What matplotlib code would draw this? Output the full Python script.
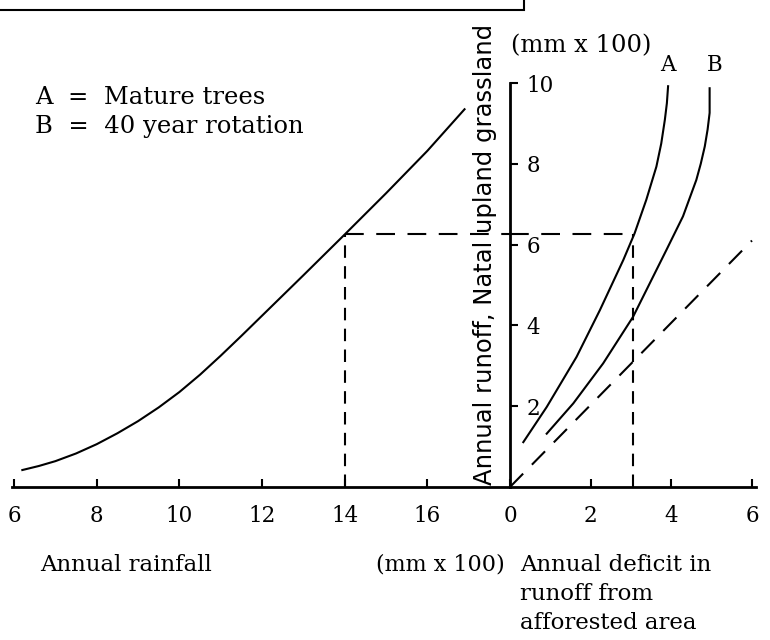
import matplotlib.pyplot as plt
from matplotlib.patches import Rectangle

# annual rainfall vs runoff from Natal upland grassland (mm x 100)
rainfall = [6.2, 6.6, 7.0, 7.5, 8.0, 8.5, 9.0, 9.5, 10.0, 10.5, 11.0, 11.5,
            12.0, 13.0, 14.0, 15.0, 16.0, 16.9]
runoff_grass = [0.42, 0.52, 0.64, 0.83, 1.06, 1.33, 1.63, 1.97, 2.35, 2.78,
                3.25, 3.74, 4.24, 5.24, 6.25, 7.27, 8.32, 9.35]

# annual deficit in runoff from afforested area
deficit_a = [0.33, 0.91, 1.65, 2.23, 2.81, 3.09, 3.38, 3.63, 3.75, 3.84, 3.89, 3.92]
runoff_a = [1.11, 1.98, 3.22, 4.38, 5.62, 6.28, 7.11, 7.93, 8.5, 9.09, 9.5, 9.92]
deficit_b = [0.91, 1.57, 2.31, 3.05, 3.63, 3.88, 4.29, 4.62, 4.73, 4.83, 4.9, 4.95, 4.95]
runoff_b = [1.32, 2.07, 3.06, 4.21, 5.37, 5.87, 6.7, 7.6, 8.0, 8.43, 8.85, 9.26, 9.87]

# dashed 1:1 line
ref_deficit = [0.0, 6.0]
ref_runoff = [0.0, 6.1]

# worked example (dashed guide lines)
example_rain = 14.0
example_runoff = 6.25
example_deficit = 3.05

rain_ticks = [6, 8, 10, 12, 14, 16]
deficit_ticks = [0, 2, 4, 6]
runoff_ticks = [2, 4, 6, 8, 10]

W, H = 770, 640
SERIF = "DejaVu Serif"


def fpos(x, y):
    # pixel position -> figure fraction
    return x / W, 1 - y / H


fig = plt.figure(figsize=(7.7, 6.4), dpi=100, facecolor="white")

# left panel: rainfall 5.95..18, right panel: deficit 0..6.1 (same scale)
ax1 = fig.add_axes([12 / W, 1 - 487 / H, (510 - 12) / W, (487 - 83) / H])
ax2 = fig.add_axes([510 / W, 1 - 487 / H, (756 - 510) / W, (487 - 83) / H])
for ax in (ax1, ax2):
    ax.set_facecolor("none")
    ax.set_ylim(0, 10)
    ax.spines["top"].set_visible(False)
    ax.spines["right"].set_visible(False)
    ax.spines["bottom"].set_linewidth(2)
    ax.tick_params(axis="x", direction="in", length=6, width=1.5,
                   pad=13, labelsize=15.5)

ax1.set_xlim(5.95, 18)
ax2.set_xlim(0, 6.1)
ax1.spines["left"].set_visible(False)
ax1.set_yticks([])
ax2.spines["left"].set_linewidth(2)

ax1.set_xticks(rain_ticks, labels=[str(t) for t in rain_ticks], family=SERIF)
ax2.set_xticks(deficit_ticks, labels=[str(t) for t in deficit_ticks], family=SERIF)
ax2.set_yticks(runoff_ticks, labels=[str(t) for t in runoff_ticks],
               family=SERIF, ha="left")
ax2.tick_params(axis="y", direction="in", length=6, width=1.5, pad=-12,
                labelsize=15.5)

# curves
ax1.plot(rainfall, runoff_grass, color="black", lw=1.5, clip_on=False)
ax2.plot(deficit_a, runoff_a, color="black", lw=1.5, clip_on=False)
ax2.plot(deficit_b, runoff_b, color="black", lw=1.5, clip_on=False)
ax2.plot(ref_deficit, ref_runoff, color="black", lw=1.5,
         ls=(0, (9, 6)), clip_on=False)

# dashed guide lines
ax1.plot([example_rain, example_rain], [0, example_runoff], color="black",
         lw=1.5, ls=(0, (6, 4)), clip_on=False)
ax1.plot([example_rain, 18], [example_runoff, example_runoff], color="black",
         lw=1.5, ls=(0, (9, 6)), clip_on=False)
ax2.plot([0, example_deficit], [example_runoff, example_runoff], color="black",
         lw=1.5, ls=(0, (9, 6)), clip_on=False)
ax2.plot([example_deficit, example_deficit], [0, example_runoff], color="black",
         lw=1.5, ls=(0, (6, 4)), clip_on=False)

# texts
fig.text(*fpos(35, 97), "A  =  Mature trees", family=SERIF, fontsize=17.5,
         va="center", ha="left")
fig.text(*fpos(35, 127), "B  =  40 year rotation", family=SERIF, fontsize=17.5,
         va="center", ha="left")
fig.text(*fpos(511, 46), "(mm x 100)", family=SERIF, fontsize=17.5,
         va="center", ha="left")
fig.text(*fpos(668, 65), "A", family=SERIF, fontsize=15.5, va="center", ha="center")
fig.text(*fpos(715, 65), "B", family=SERIF, fontsize=15.5, va="center", ha="center")

fig.text(*fpos(40, 565), "Annual rainfall", family=SERIF, fontsize=16.5,
         va="center", ha="left")
fig.text(*fpos(505, 565), "(mm x 100)", family=SERIF, fontsize=16,
         va="center", ha="right")
fig.text(*fpos(520, 565), "Annual deficit in", family=SERIF, fontsize=16.5,
         va="center", ha="left")
fig.text(*fpos(520, 594), "runoff from", family=SERIF, fontsize=16.5,
         va="center", ha="left")
fig.text(*fpos(520, 623), "afforested area", family=SERIF, fontsize=16.5,
         va="center", ha="left")

fig.text(*fpos(492, 485), "Annual runoff, Natal upland grassland",
         family="DejaVu Sans", fontsize=17.5, rotation=90,
         rotation_mode="anchor", ha="left", va="baseline", zorder=1)

# caption box remnant at the top
x0, y0 = fpos(-5, 10)
x1, _ = fpos(524, 0)
box = Rectangle((x0, y0), x1 - x0, 0.1, transform=fig.transFigure,
                facecolor="white", edgecolor="black", lw=1.5, zorder=5,
                clip_on=False)
fig.add_artist(box)

plt.savefig("out.png", dpi=100)
plt.close()
